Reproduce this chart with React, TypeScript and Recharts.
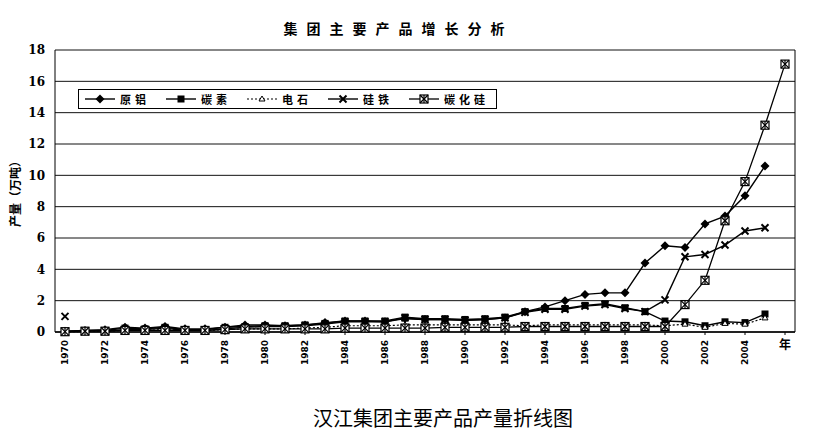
import React from 'react';
import { LineChart, Line, XAxis, YAxis, CartesianGrid, Legend } from 'recharts';

// Categories (x axis): 1970..2005, last slot labelled 年
const years = [
  '1970','1971','1972','1973','1974','1975','1976','1977','1978','1979',
  '1980','1981','1982','1983','1984','1985','1986','1987','1988','1989',
  '1990','1991','1992','1993','1994','1995','1996','1997','1998','1999',
  '2000','2001','2002','2003','2004','2005','年',
];

const seriesNames = ['原铝', '碳素', '电石', '硅铁', '碳化硅'];

// 原铝
const aluminum = [0.05,0.1,0.15,0.3,0.25,0.35,0.2,0.2,0.3,0.45,0.45,0.4,0.45,0.6,0.7,0.7,0.65,0.85,0.8,0.8,0.75,0.8,0.9,1.3,1.6,2.0,2.4,2.5,2.5,4.4,5.5,5.4,6.9,7.4,8.7,10.6,null];
// 碳素
const carbon = [0.05,0.1,0.1,0.25,0.2,0.3,0.15,0.15,0.3,0.35,0.4,0.4,0.45,0.55,0.7,0.7,0.7,0.95,0.85,0.85,0.8,0.85,0.95,1.3,1.5,1.5,1.7,1.8,1.55,1.3,0.7,0.65,0.4,0.65,0.6,1.15,null];
// 电石
const carbide = [0.0,0.05,0.05,0.1,0.1,0.15,0.1,0.1,0.15,0.2,0.2,0.2,0.25,0.3,0.4,0.4,0.4,0.45,0.45,0.45,0.45,0.45,0.45,0.4,0.45,0.45,0.45,0.45,0.45,0.45,0.4,0.5,0.3,0.55,0.5,0.9,null];
// 硅铁
const ferrosilicon = [1.0,null,0.05,0.15,0.15,0.25,0.1,0.1,0.2,0.3,0.35,0.35,0.4,0.5,0.65,0.65,0.65,0.9,0.8,0.8,0.75,0.8,0.9,1.25,1.45,1.45,1.65,1.75,1.5,1.3,2.05,4.8,4.95,5.55,6.45,6.65,null];
// 碳化硅
const siliconCarbide = [0.02,0.05,0.05,0.1,0.1,0.1,0.1,0.1,0.15,0.2,0.2,0.2,0.2,0.2,0.25,0.25,0.25,0.25,0.25,0.3,0.3,0.3,0.3,0.35,0.35,0.35,0.35,0.35,0.35,0.35,0.35,1.75,3.3,7.1,9.6,13.2,17.1];

const yTicks = [0, 2, 4, 6, 8, 10, 12, 14, 16, 18];

const chartTitle = '集团主要产品增长分析';
const yAxisTitle = '产量（万吨）';
const caption = '汉江集团主要产品产量折线图';

const seriesValues = [aluminum, carbon, carbide, ferrosilicon, siliconCarbide];

const data = years.map((y, i) => {
  const row: any = { year: y };
  seriesNames.forEach((n, s) => {
    row[n] = seriesValues[s][i];
  });
  return row;
});

const seriesStyle: Record<string, { shape: string; dash?: string; width: number }> = {
  '原铝': { shape: 'diamond', width: 1.4 },
  '碳素': { shape: 'square', width: 1.4 },
  '电石': { shape: 'triangle', dash: '2 2', width: 1.2 },
  '硅铁': { shape: 'cross', width: 1.4 },
  '碳化硅': { shape: 'boxcross', width: 1.3 },
};

function Marker({ shape, cx, cy }: { shape: string; cx: number; cy: number }) {
  switch (shape) {
    case 'diamond':
      return <polygon points={`${cx},${cy - 4.5} ${cx + 4.5},${cy} ${cx},${cy + 4.5} ${cx - 4.5},${cy}`} fill="#000" />;
    case 'square':
      return <rect x={cx - 3.5} y={cy - 3.5} width={7} height={7} fill="#000" />;
    case 'triangle':
      return <polygon points={`${cx},${cy - 3} ${cx + 3},${cy + 2} ${cx - 3},${cy + 2}`} fill="#fff" stroke="#000" strokeWidth={1} />;
    case 'cross':
      return (
        <g stroke="#000" strokeWidth={2}>
          <line x1={cx - 3.5} y1={cy - 3.5} x2={cx + 3.5} y2={cy + 3.5} />
          <line x1={cx - 3.5} y1={cy + 3.5} x2={cx + 3.5} y2={cy - 3.5} />
        </g>
      );
    case 'boxcross':
    default:
      return (
        <g stroke="#000" strokeWidth={1.2}>
          <rect x={cx - 4} y={cy - 4} width={8} height={8} fill="#fff" />
          <line x1={cx - 4} y1={cy - 4} x2={cx + 4} y2={cy + 4} />
          <line x1={cx - 4} y1={cy + 4} x2={cx + 4} y2={cy - 4} />
          <line x1={cx} y1={cy - 4} x2={cx} y2={cy + 4} />
        </g>
      );
  }
}

const makeDot = (name: string, shape: string) => (props: any) => {
  const { cx, cy, value, index } = props;
  const k = `${name}-${index}`;
  if (cx == null || cy == null || value == null || Number.isNaN(cx) || Number.isNaN(cy)) return <g key={k} />;
  return (
    <g key={k}>
      <Marker shape={shape} cx={cx} cy={cy} />
    </g>
  );
};

const XTick = (props: any) => {
  const { x, y, payload } = props;
  const v = payload.value;
  if (v === '年') {
    return (
      <text x={x} y={y + 12} textAnchor="middle" fontSize={12} fontWeight={700}
        fontFamily="'Noto Sans CJK SC', sans-serif" fill="#000">{v}</text>
    );
  }
  return (
    <g transform={`translate(${x},${y + 3})`}>
      <text transform="rotate(-90)" textAnchor="end" dy="0.35em" fontSize={9} fontWeight={700}
        fontFamily="'DejaVu Sans', sans-serif" fill="#000">{v}</text>
    </g>
  );
};

const LegendBox = () => (
  <div style={{
    display: 'flex', alignItems: 'center', border: '1px solid #000', background: '#fff',
    height: 20, width: 419, boxSizing: 'border-box', paddingLeft: 6, whiteSpace: 'nowrap',
    fontFamily: "'Noto Sans CJK SC', sans-serif", fontWeight: 700, fontSize: 11, color: '#000',
  }}>
    {seriesNames.map((n) => {
      const st = seriesStyle[n];
      return (
        <div key={n} style={{ display: 'flex', alignItems: 'center', marginRight: 16, flexShrink: 0 }}>
          <svg width={30} height={12} style={{ marginRight: 5, flexShrink: 0 }}>
            <line x1={0} y1={6} x2={30} y2={6} stroke="#000" strokeWidth={st.width} strokeDasharray={st.dash} />
            <Marker shape={st.shape} cx={15} cy={6} />
          </svg>
          <span style={{ letterSpacing: 4, whiteSpace: 'nowrap' }}>{n}</span>
        </div>
      );
    })}
  </div>
);

export default function App() {
  return (
    <div style={{ position: 'absolute', left: 0, top: 0, width: 817, height: 436, background: '#fff' }}>
      <div style={{
        position: 'absolute', left: 0, width: 797, top: 18, textAlign: 'center',
        fontFamily: "'Noto Sans CJK SC', sans-serif", fontWeight: 700, fontSize: 14,
        letterSpacing: 9, lineHeight: '20px', color: '#000',
      }}>{chartTitle}</div>
      <LineChart width={817} height={436} data={data}
        margin={{ top: 50, right: 20, bottom: 44, left: 0 }}>
        <CartesianGrid horizontal vertical={false} stroke="#111" strokeWidth={1} yAxisId="l" />
        <XAxis dataKey="year" interval={1} padding={{ left: 10, right: 10 }} height={60}
          tick={<XTick />} tickSize={3} tickMargin={2} stroke="#000" axisLine={{ stroke: '#000', strokeWidth: 1.5 }} />
        <YAxis yAxisId="l" domain={[0, 18]} ticks={yTicks} width={55} tickLine={false} tickSize={0} tickMargin={10}
          axisLine={{ stroke: '#000', strokeWidth: 1 }}
          tick={{ fontSize: 12, fontWeight: 700, fill: '#000', fontFamily: "'DejaVu Serif', serif" }}
          label={{ value: yAxisTitle, angle: -90, position: 'insideLeft', offset: 16, dy: 36,
            style: { fontSize: 12, fontWeight: 700, fill: '#000', fontFamily: "'Noto Sans CJK SC', sans-serif" } }} />
        <YAxis yAxisId="r" orientation="right" domain={[0, 18]} ticks={yTicks} width={2} tick={false}
          tickLine={false} axisLine={{ stroke: '#000', strokeWidth: 1 }} />
        <Legend layout="horizontal" verticalAlign="middle" align="center" content={<LegendBox />}
          wrapperStyle={{ left: 78, top: 89, width: 420, height: 20 }} />
        {seriesNames.map((n) => {
          const st = seriesStyle[n];
          return (
            <Line key={n} yAxisId="l" type="linear" dataKey={n} stroke="#000" strokeWidth={st.width}
              strokeDasharray={st.dash} dot={makeDot(n, st.shape)} activeDot={false}
              isAnimationActive={false} connectNulls={false} />
          );
        })}
      </LineChart>
      <div style={{
        position: 'absolute', left: 0, width: 886, top: 404, textAlign: 'center',
        fontFamily: "'Noto Sans CJK SC', sans-serif", fontSize: 20, lineHeight: '28px', color: '#000',
      }}>{caption}</div>
    </div>
  );
}
